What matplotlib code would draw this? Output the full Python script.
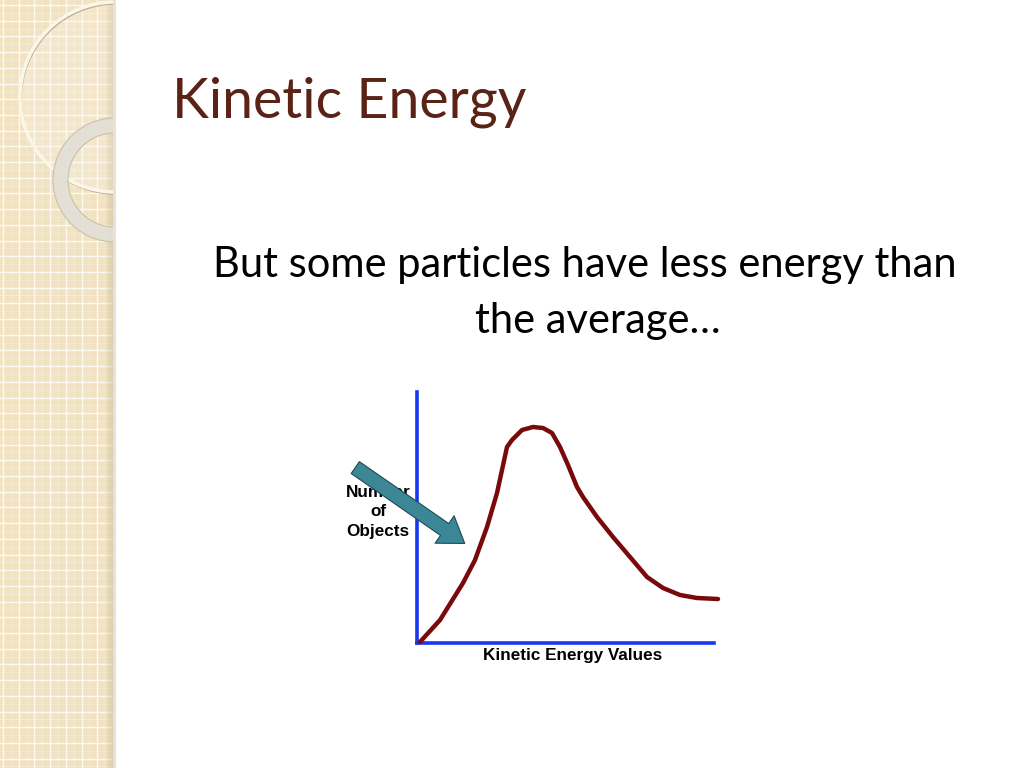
import numpy as np
import matplotlib
matplotlib.use("Agg")
import matplotlib.pyplot as plt
from matplotlib.patches import Rectangle, Circle, Wedge

# valores (unidades arbitrarias)
energia = [3, 23, 46, 58, 70, 80, 90, 95, 100, 105, 116, 126, 135, 143,
           151, 160, 166, 180, 196, 213, 230, 246, 263, 280, 301]
objetos = [1, 23, 60, 83, 116, 150, 196, 203, 208, 213, 216, 215, 210, 196,
           178, 156, 146, 126, 106, 86, 66, 55, 48, 45, 44]

titulo = "Kinetic Energy"
subtitulo_1 = "But some particles have less energy than"
subtitulo_2 = "the average\u2026"
rotulo_x = "Kinetic Energy Values"
rotulo_y = "Number\nof\nObjects"

fig = plt.figure(figsize=(10.24, 7.68), dpi=100)
fig.patch.set_facecolor("white")

# fundo em coordenadas de pixel
bg = fig.add_axes([0, 0, 1, 1])
bg.set_xlim(0, 1024)
bg.set_ylim(768, 0)
bg.axis("off")

# barra lateral bege com grade
bg.add_patch(Rectangle((0, 0), 113, 768, color="#f1e2c2", zorder=0))
for x in np.arange(3, 113, 15.7):
    bg.plot([x, x], [0, 768], color="white", lw=1.0, alpha=0.8, zorder=1)
for y in np.arange(5, 768, 15.7):
    bg.plot([0, 113], [y, y], color="white", lw=1.0, alpha=0.8, zorder=1)
for x in np.arange(3 + 7.85, 113, 15.7):
    bg.plot([x, x], [0, 768], color="white", lw=0.4, alpha=0.5, zorder=1)
for y in np.arange(5 + 7.85, 768, 15.7):
    bg.plot([0, 113], [y, y], color="white", lw=0.4, alpha=0.5, zorder=1)
# sombra na borda
for i in range(8):
    bg.add_patch(Rectangle((105 + i, 0), 1, 768, color="#c9b896",
                           alpha=0.08 + 0.06 * i, lw=0, zorder=2))
bg.add_patch(Rectangle((113, 0), 3, 768, color="#e8e2d6", lw=0, zorder=2))

clip = Rectangle((0, 0), 113, 768, transform=bg.transData)
# aneis
c1 = Circle((115, 97), 95, fill=False, ec="#fbf6ea", lw=2.5, zorder=3)
c1s = Circle((116, 99), 95, fill=False, ec="#a89870", lw=1.2, alpha=0.7, zorder=3)
c2 = Wedge((115, 180), 62, 0, 360, width=15, fc="#e3dfd6", ec="#c8bea8",
           lw=0.8, alpha=0.92, zorder=4)
claro = Circle((115, 97), 94, fc="white", alpha=0.15, lw=0, zorder=2)
for p in (claro, c1s, c1, c2):
    bg.add_patch(p)
    p.set_clip_path(clip)

# textos
bg.text(172, 118, titulo, fontsize=40, family=["Lato", "DejaVu Sans"],
        color="#5b2315", ha="left", va="baseline")
bg.text(585, 277, subtitulo_1, fontsize=30, family=["Lato", "DejaVu Sans"],
        color="black", ha="center", va="baseline")
bg.text(598, 333, subtitulo_2, fontsize=30, family=["Lato", "DejaVu Sans"],
        color="black", ha="center", va="baseline")

# grafico
ax = fig.add_axes([417 / 1024, (768 - 643) / 768, 297 / 1024, 251 / 768])
ax.set_xlim(0, 297)
ax.set_ylim(0, 251)
ax.patch.set_alpha(0)
for s in ("top", "right"):
    ax.spines[s].set_visible(False)
for s in ("left", "bottom"):
    ax.spines[s].set_color("#1538f0")
    ax.spines[s].set_linewidth(2.6)
ax.set_xticks([])
ax.set_yticks([])
ax.plot(energia, objetos, color="#780a0c", lw=3.2, clip_on=False,
        solid_capstyle="round", solid_joinstyle="round", zorder=3)

ax.text(156, -5, rotulo_x, fontsize=12.3, fontweight="bold",
        family=["Liberation Sans", "DejaVu Sans"], ha="center", va="top")
ax.text(-39, 131, rotulo_y, fontsize=12.3, fontweight="bold",
        family=["Liberation Sans", "DejaVu Sans"], ha="center", va="center",
        linespacing=1.4)

# seta
ax.annotate("", xy=(50, 98), xytext=(-64, 177), annotation_clip=False,
            arrowprops=dict(arrowstyle="simple,head_length=1.1,head_width=1.5,tail_width=0.65",
                            mutation_scale=16, fc="#3b8796", ec="#1f4a55", lw=0.8),
            zorder=5)

fig.savefig("out.png", dpi=100)
